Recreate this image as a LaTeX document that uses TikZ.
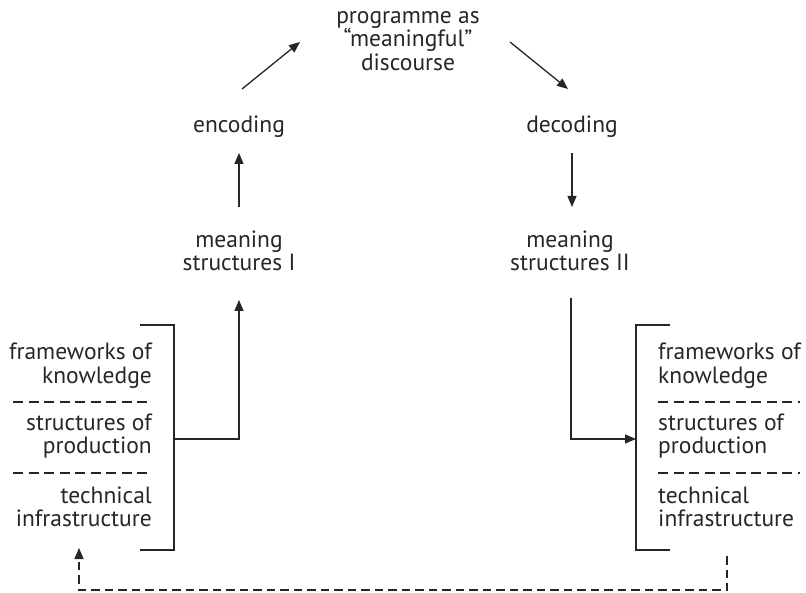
\documentclass[tikz,border=0pt]{standalone}
\usepackage{fontspec}
\setmainfont{PT Sans}
\usetikzlibrary{arrows.meta}
\begin{document}
\begin{tikzpicture}[x=1pt,y=-1pt,
  lbl/.style={font=\fontsize{23.5}{23.5}\selectfont, inner sep=0pt, text=black!85},
  ln/.style={line width=1.3pt, draw=black!85},
  arr/.style={ln, -{Triangle[length=11pt,width=9pt]}},
  sep/.style={line width=1.1pt, draw=black!85, dash pattern=on 10pt off 5.5pt},
  fb/.style={line width=1.3pt, draw=black!85, dash pattern=on 8.5pt off 5pt, -{Triangle[length=11pt,width=9pt]}}]
\useasboundingbox (0,0) rectangle (806,593);
% top nodes
\node[lbl, align=center] (prog) at (408,41) {programme as\\“meaningful”\\discourse};
\node[lbl] (enc) at (239,127) {encoding};
\node[lbl] (dec) at (572,127) {decoding};
\node[lbl, align=center] (mI) at (239,251) {meaning\\structures I};
\node[lbl, align=center] (mII) at (570,251) {meaning\\structures II};
% left column
\node[lbl, align=right, anchor=east] (lfk) at (152,365.5) {frameworks of\\knowledge};
\node[lbl, align=right, anchor=east] (lsp) at (152,436) {structures of\\production};
\node[lbl, align=right, anchor=east] (lti) at (152,507) {technical\\infrastructure};
\draw[sep] (13,402) -- (152,402);
\draw[sep] (13,473) -- (152,473);
% right column
\node[lbl, align=left, anchor=west] (rfk) at (658,365.5) {frameworks of\\knowledge};
\node[lbl, align=left, anchor=west] (rsp) at (658,436) {structures of\\production};
\node[lbl, align=left, anchor=west] (rti) at (658,507) {technical\\infrastructure};
\draw[sep] (658,402) -- (800,402);
\draw[sep] (658,473) -- (800,473);
% brackets
\coordinate (lbt) at (174,325);
\coordinate (lbb) at (174,550);
\coordinate (lbm) at (174,439);
\draw[ln] (140,325) -- (lbt) -- (lbb) -- (140,550);
\coordinate (rbt) at (636,325);
\coordinate (rbb) at (636,550);
\coordinate (rbm) at (636,439);
\draw[ln] (670,325) -- (rbt) -- (rbb) -- (670,550);
% arrows
\coordinate (mItip) at (239,300);
\draw[arr] (lbm) -| (mItip);
\coordinate (mIIsrc) at (571,298);
\draw[arr] (mIIsrc) |- (rbm);
\coordinate (encs) at (239,207);
\coordinate (enct) at (239,153);
\draw[arr] (encs) -- (enct);
\coordinate (decs) at (572,153);
\coordinate (dect) at (572,207);
\draw[arr] (decs) -- (dect);
\coordinate (d1s) at (242,89);
\coordinate (d1t) at (300,42);
\draw[arr] (d1s) -- (d1t);
\coordinate (d2s) at (510,42);
\coordinate (d2t) at (568,89);
\draw[arr] (d2s) -- (d2t);
% feedback
\coordinate (fbs) at (727,556);
\coordinate (fbt) at (79,548);
\draw[fb] (fbs) |- (400,590) -| (fbt);
\end{tikzpicture}
\end{document}
